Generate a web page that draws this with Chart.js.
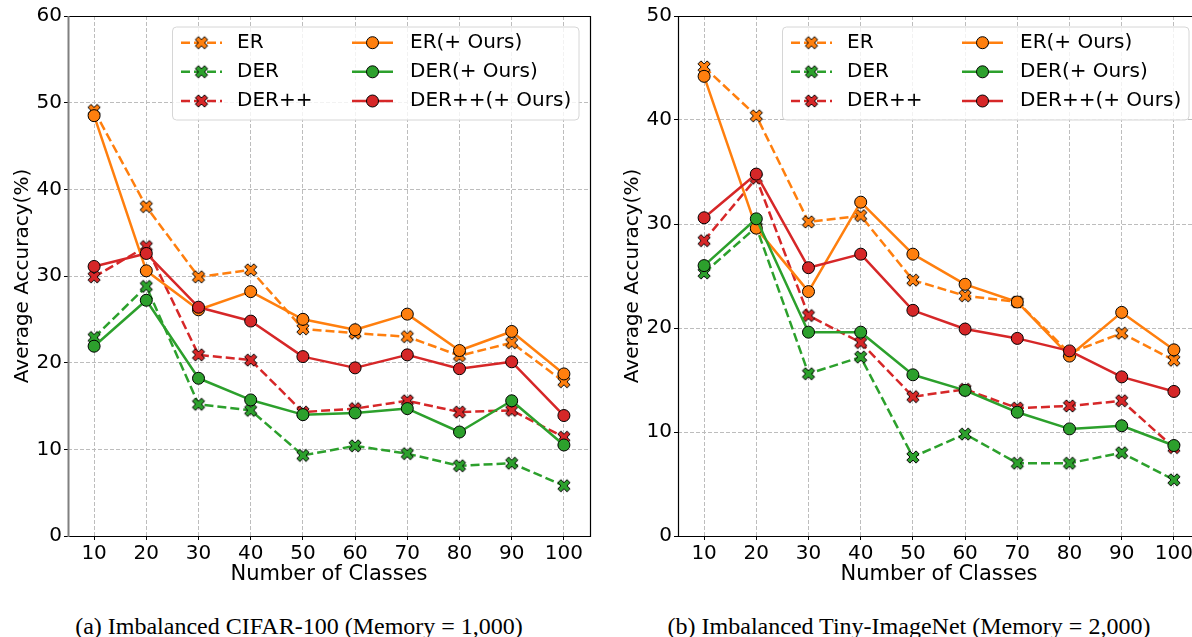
<!DOCTYPE html>
<html><head><meta charset="utf-8">
<script src="https://cdn.jsdelivr.net/npm/chart.js@4.4.1/dist/chart.umd.min.js"></script>
<style>
html,body{margin:0;padding:0;background:#fff;width:1192px;height:637px;overflow:hidden;position:relative;}
.wrap{position:absolute;top:0;width:600px;height:600px;}
.cap{position:absolute;font-family:'Liberation Serif','Times New Roman',serif;font-size:24px;line-height:24px;white-space:nowrap;color:#000;transform:translateX(-50%);}
</style></head><body>
<div class="wrap" style="left:0"><canvas id="c1" width="600" height="600"></canvas></div>
<div class="wrap" style="left:610px"><canvas id="c2" width="600" height="600"></canvas></div>
<div class="cap" style="left:299px;top:614px">(a) Imbalanced CIFAR-100 (Memory = 1,000)</div>
<div class="cap" style="left:909px;top:614px">(b) Imbalanced Tiny-ImageNet (Memory = 2,000)</div>
<script>
// ---- data ----
const classes = ['10','20','30','40','50','60','70','80','90','100'];

// (a) Imbalanced CIFAR-100
const cifarER        = [49.1, 38.0, 29.9, 30.7, 23.9, 23.4, 23.0, 20.8, 22.3, 17.8];
const cifarDER       = [22.9, 28.8, 15.2, 14.5, 9.3, 10.4, 9.5, 8.1, 8.4, 5.8];
const cifarDERpp     = [29.9, 33.4, 20.9, 20.3, 14.3, 14.7, 15.6, 14.3, 14.5, 11.4];
const cifarEROurs    = [48.5, 30.6, 26.1, 28.2, 25.0, 23.8, 25.6, 21.4, 23.6, 18.7];
const cifarDEROurs   = [21.9, 27.2, 18.2, 15.7, 14.0, 14.2, 14.7, 12.0, 15.6, 10.5];
const cifarDERppOurs = [31.1, 32.6, 26.4, 24.8, 20.7, 19.4, 20.9, 19.3, 20.1, 13.9];

// (b) Imbalanced Tiny-ImageNet
const tinyER        = [45.1, 40.4, 30.2, 30.8, 24.6, 23.1, 22.5, 17.6, 19.5, 16.9];
const tinyDER       = [25.3, 29.7, 15.6, 17.2, 7.6, 9.8, 7.0, 7.0, 8.0, 5.4];
const tinyDERpp     = [28.4, 34.4, 21.2, 18.6, 13.4, 14.1, 12.3, 12.5, 13.0, 8.5];
const tinyEROurs    = [44.2, 29.6, 23.5, 32.1, 27.1, 24.2, 22.5, 17.3, 21.5, 17.9];
const tinyDEROurs   = [26.0, 30.5, 19.6, 19.6, 15.5, 14.0, 11.9, 10.3, 10.6, 8.7];
const tinyDERppOurs = [30.6, 34.8, 25.8, 27.1, 21.7, 19.9, 19.0, 17.8, 15.3, 13.9];

const seriesLabels = ['ER','DER','DER++','ER(+ Ours)','DER(+ Ours)','DER++(+ Ours)'];
const yMaxA = 60, yMaxB = 50;
const xTitle = 'Number of Classes';
const yTitle = 'Average Accuracy(%)';

// ---- style ----
const ORANGE='#ff7f0e', GREEN='#2ca02c', RED='#d62728';
const FONT='DejaVu Sans';
Chart.defaults.font.family = FONT;
Chart.defaults.color = '#000';

function makeXMarker(color){
  const c=document.createElement('canvas'); c.width=18; c.height=18;
  const g=c.getContext('2d');
  const pts=[[-1,-3],[1,-3],[1,-1],[3,-1],[3,1],[1,1],[1,3],[-1,3],[-1,1],[-3,1],[-3,-1],[-1,-1]];
  const s=13/6, a=Math.PI/4, ca=Math.cos(a), sa=Math.sin(a);
  g.beginPath();
  pts.forEach((p,i)=>{
    const x=p[0]*s, y=p[1]*s;
    const xr=x*ca-y*sa+9, yr=x*sa+y*ca+9;
    if(i===0) g.moveTo(xr,yr); else g.lineTo(xr,yr);
  });
  g.closePath();
  g.fillStyle=color; g.fill();
  g.lineWidth=1; g.strokeStyle='#000'; g.lineJoin='miter'; g.stroke();
  return c;
}
const xImg = {[ORANGE]:makeXMarker(ORANGE),[GREEN]:makeXMarker(GREEN),[RED]:makeXMarker(RED)};

function buildDatasets(arrs){
  const colors=[ORANGE,GREEN,RED,ORANGE,GREEN,RED];
  return arrs.map((data,i)=>{
    const dashed = i<3;
    const color = colors[i];
    return {
      label: seriesLabels[i], data,
      borderColor: color, backgroundColor: color,
      borderWidth: 2.5, borderDash: dashed?[9,4]:[],
      borderJoinStyle:'round', borderCapStyle:'butt',
      pointStyle: dashed? xImg[color] : 'circle',
      pointRadius: 6, pointHoverRadius: 6,
      pointBorderColor:'#000', pointBorderWidth:1, pointBackgroundColor: color,
      order: 6-i, fill:false, tension:0,
      _dashed: dashed, _marker: dashed?'X':'o'
    };
  });
}

function roundRect(ctx,x,y,w,h,r){
  ctx.beginPath();
  ctx.moveTo(x+r,y); ctx.lineTo(x+w-r,y); ctx.arcTo(x+w,y,x+w,y+r,r);
  ctx.lineTo(x+w,y+h-r); ctx.arcTo(x+w,y+h,x+w-r,y+h,r);
  ctx.lineTo(x+r,y+h); ctx.arcTo(x,y+h,x,y+h-r,r);
  ctx.lineTo(x,y+r); ctx.arcTo(x,y,x+r,y,r); ctx.closePath();
}

const framePlugin = {
  id:'frameLegend',
  afterDatasetsDraw(chart, args, opts){
    const ctx=chart.ctx, a=chart.chartArea;
    ctx.save();
    // frame (spines)
    ctx.setLineDash([]);
    ctx.strokeStyle='#000'; ctx.lineWidth=1.2;
    ctx.beginPath();
    ctx.moveTo(a.left, a.top+0.5); ctx.lineTo(a.right+0.5, a.top+0.5);
    ctx.lineTo(a.right+0.5, a.bottom+0.5); ctx.lineTo(a.left, a.bottom+0.5);
    ctx.stroke();
    ctx.strokeStyle=opts.leftSpine||'#000'; ctx.lineWidth=opts.leftSpineWidth||1.2;
    ctx.beginPath(); ctx.moveTo(a.left+0.5,a.top); ctx.lineTo(a.left+0.5,a.bottom+1); ctx.stroke();
    // legend box
    roundRect(ctx,172.5,27,406.5,93,4);
    ctx.fillStyle='rgba(255,255,255,0.8)'; ctx.fill();
    ctx.strokeStyle='#d6d6d6'; ctx.lineWidth=1; ctx.stroke();
    const rowY=[42.7,71.8,101];
    const colX=[181,352];
    const textX=[237,410];
    chart.data.datasets.forEach((ds,i)=>{
      const col = ds._dashed?0:1, row = i%3;
      const y=rowY[row], x0=colX[col];
      ctx.save();
      ctx.strokeStyle=ds.borderColor; ctx.lineWidth=2.5; ctx.lineCap='butt';
      ctx.setLineDash(ds._dashed?[9,4]:[]);
      ctx.beginPath(); ctx.moveTo(x0,y); ctx.lineTo(x0+41,y); ctx.stroke();
      ctx.setLineDash([]);
      const cx=x0+20.5;
      if(ds._marker==='X'){
        const img=ds.pointStyle; ctx.drawImage(img,cx-img.width/2,y-img.height/2);
      } else {
        ctx.beginPath(); ctx.arc(cx,y,6,0,Math.PI*2);
        ctx.fillStyle=ds.borderColor; ctx.fill();
        ctx.strokeStyle='#000'; ctx.lineWidth=1; ctx.stroke();
      }
      ctx.fillStyle='#000'; ctx.font='20px "'+FONT+'"';
      ctx.textBaseline='middle'; ctx.textAlign='left';
      ctx.fillText(ds.label, textX[col], y);
      ctx.restore();
    });
    ctx.restore();
  }
};

function makeChart(id, arrs, yMax, leftSpine, leftSpineWidth){
  const gridCfg = {color:'#bdbdbd', lineWidth:1, drawTicks:true, tickLength:4, tickColor:'#000', tickWidth:1};
  return new Chart(document.getElementById(id), {
    type:'line',
    data:{labels:classes, datasets:buildDatasets(arrs)},
    plugins:[framePlugin],
    options:{
      responsive:false, animation:false, devicePixelRatio:1,
      layout:{padding:{top:16,right:10,left:0,bottom:0}},
      plugins:{legend:{display:false}, tooltip:{enabled:false}, frameLegend:{leftSpine, leftSpineWidth}},
      scales:{
        x:{type:'category', offset:true,
           grid:gridCfg, border:{display:false, dash:[4,2]},
           ticks:{color:'#000', font:{family:FONT,size:20}, padding:2, maxRotation:0, autoSkip:false},
           title:{display:true, text:xTitle, color:'#000', font:{family:FONT,size:21}, padding:{top:0,bottom:13}},
           afterFit:(s)=>{s.height=64;}
        },
        y:{min:0, max:yMax,
           grid:gridCfg, border:{display:false, dash:[4,2]},
           ticks:{stepSize:10, color:'#000', font:{family:FONT,size:20}, padding:2},
           title:{display:true, text:yTitle, color:'#000', font:{family:FONT,size:20}, padding:{top:11,bottom:0}},
           afterFit:(s)=>{s.width=68;}
        }
      }
    }
  });
}

makeChart('c1',[cifarER,cifarDER,cifarDERpp,cifarEROurs,cifarDEROurs,cifarDERppOurs],yMaxA,'#808080',2);
makeChart('c2',[tinyER,tinyDER,tinyDERpp,tinyEROurs,tinyDEROurs,tinyDERppOurs],yMaxB,'#000',1.2);
</script>
</body></html>
